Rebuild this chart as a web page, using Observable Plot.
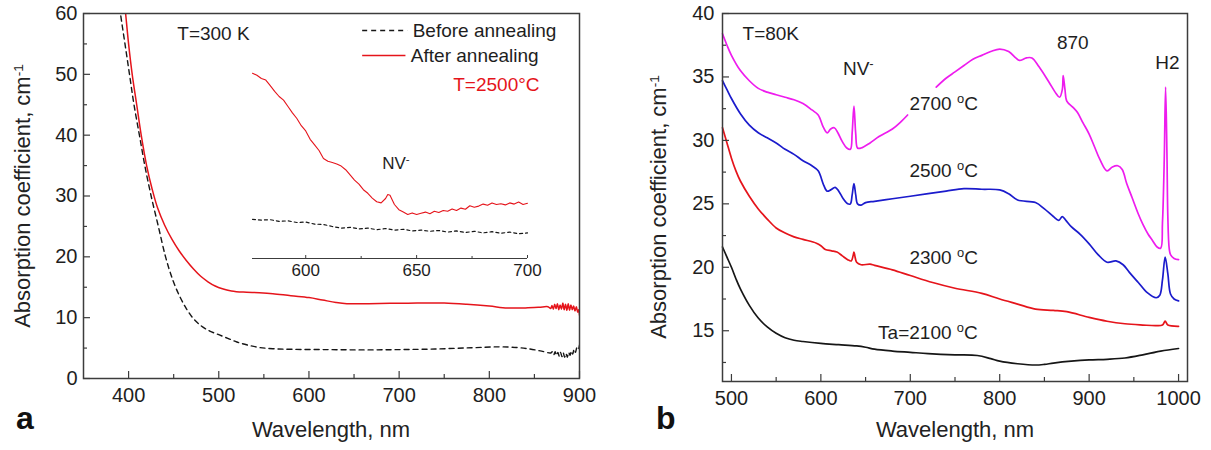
<!DOCTYPE html>
<html><head><meta charset="utf-8">
<script src="https://cdn.jsdelivr.net/npm/d3@7"></script>
<script src="https://cdn.jsdelivr.net/npm/@observablehq/plot@0.6"></script>
<style>
body{margin:0;background:#fff;}
#root{position:relative;width:1211px;height:450px;overflow:hidden;font-family:"Liberation Sans",Arial,sans-serif;color:#222;background:#fff;}
.pane{position:absolute;top:0;}
.lab{position:absolute;white-space:nowrap;font-size:22px;line-height:1;}
.ylab{transform:translate(-50%,-50%) rotate(-90deg);}
.xlab{transform:translateX(-50%);}
.letter{position:absolute;font-size:32px;font-weight:bold;line-height:1;color:#111;}
sup{font-size:0.62em;vertical-align:0.55em;line-height:0;}
</style></head><body><div id="root"></div><script>
// ---------- Panel a : T = 300 K ----------
const xTicksA = [400, 500, 600, 700, 800, 900];
const xMinorA = [450, 550, 650, 750, 850];
const yTicksA = [0, 10, 20, 30, 40, 50, 60];
const yMinorA = [5, 15, 25, 35, 45, 55];

const beforeA = [[389,62.5],[391,60],[396,55],[401,50],[406,45],[412,40],[418,35],[425,30],[433,25],[441,20],[449,16.2],[457,13.4],[464,11.5],[471,10.0],[480,8.7],[490,7.8],[500,7.2],[510,6.6],[520,6.0],[532,5.5],[545,5.1],[560,4.9],[580,4.8],[620,4.75],[660,4.7],[700,4.75],[740,4.85],[780,5.05],[810,5.2],[830,5.1],[845,4.85],[858,4.5],[868,4.2],[870,4.4],[871.5,3.9],[873,4.4],[874.5,3.8],[876,4.3],[877.5,3.7],[879,4.3],[880.5,3.6],[882,4.2],[883.5,3.5],[885,4.1],[886.5,3.5],[888,4.3],[889.5,3.8],[891,4.5],[892.5,4.0],[894,4.8],[895.5,4.3],[897,5.0],[898.5,4.7],[900,5.5]];
const afterA = [[395,62.5],[396.7,60],[400,55],[404,50],[409,45],[414,40],[420,35],[426,31.2],[432,28.1],[440,25.2],[448,22.9],[456,21.0],[464,19.4],[472,18.0],[480,16.8],[488,15.9],[496,15.2],[504,14.75],[514,14.4],[527,14.2],[545,14.1],[560,13.95],[580,13.6],[600,13.3],[615,12.9],[630,12.5],[642,12.3],[665,12.3],[690,12.35],[720,12.4],[750,12.4],[775,12.2],[800,11.9],[820,11.6],[840,11.6],[855,11.7],[865,11.8],[868,11.5],[869.5,12.0],[871,11.4],[872.5,12.2],[874,11.5],[875.5,12.3],[877,11.3],[878.5,12.1],[880,11.4],[881.5,12.4],[883,11.3],[884.5,12.2],[886,11.2],[887.5,12.3],[889,11.2],[890.5,12.1],[892,11.3],[893.5,11.9],[895,11.1],[896.5,11.8],[898,10.9],[899,11.3],[900,10.4]];

// inset (576–700 nm, arbitrary vertical units)
const insetTicks = [600, 650, 700];
const insetMinor = [625, 675];
const insetAfter = [[576,46.3],[578,45.8],[580,45.0],[582,44.6],[584,43.2],[586,41.8],[588,40.5],[590,39.6],[592,38.0],[594,36.4],[596,35.0],[598,33.2],[600,31.9],[602,29.8],[604,28.4],[606,27.0],[608,25.0],[610,24.3],[612,24.0],[614,23.6],[616,23.1],[618,22.2],[620,20.9],[622,19.6],[624,18.6],[626,17.2],[628,16.3],[630,15.1],[632,14.2],[634,13.9],[636,15.0],[637,16.0],[638,15.8],[640,13.5],[642,12.2],[644,11.6],[646,11.0],[648,11.4],[650,11.0],[652,11.3],[654,11.6],[656,11.2],[658,11.8],[660,11.5],[662,12.0],[664,11.8],[666,12.4],[668,12.0],[670,12.6],[672,12.3],[674,13.2],[676,12.8],[678,13.1],[680,13.6],[682,13.3],[684,13.9],[686,13.5],[688,13.7],[690,13.4],[692,13.9],[694,13.6],[696,14.1],[698,13.5],[700,13.8]];
const insetBefore = [[576,9.8],[580,9.6],[584,9.7],[588,9.3],[592,9.4],[596,9.0],[600,9.1],[604,8.6],[608,8.5],[612,8.0],[616,7.6],[620,7.8],[624,7.4],[628,7.6],[632,7.2],[636,7.5],[640,7.1],[644,7.3],[648,6.9],[652,7.1],[656,6.8],[660,7.0],[664,6.6],[668,6.9],[672,6.5],[676,6.8],[680,6.4],[684,6.7],[688,6.3],[692,6.6],[696,6.2],[700,6.4]];

const seriesA = ["Before annealing", "After annealing"];
const notesA = [{t: "T=300 K", x: 454, y: 56.7}];
const legendA = [{t: seriesA[0], x1: 659, x2: 709, y: 57.2}, {t: seriesA[1], x1: 659, x2: 707, y: 53.1}];
const redNotesA = [{t: "T=2500°C", x: 760, y: 48.2}];
const insetNotes = [{t: "NV^{-}", x: 634.5, y: 23.8}];

// ---------- Panel b : T = 80 K ----------
const xTicksB = [500, 600, 700, 800, 900, 1000];
const xMinorB = [550, 650, 750, 850, 950];
const yTicksB = [15, 20, 25, 30, 35, 40];
const yMinorB = [12.5, 17.5, 22.5, 27.5, 32.5, 37.5];

const ta2100 = [[490,21.6],[495,20.8],[500,20.0],[505,19.1],[510,18.3],[520,17.0],[530,16.0],[540,15.3],[550,14.8],[560,14.45],[570,14.25],[580,14.15],[600,14.0],[620,13.9],[640,13.8],[650,13.7],[660,13.55],[680,13.4],[700,13.3],[720,13.2],[750,13.1],[775,13.05],[790,12.8],[800,12.6],[820,12.4],[840,12.3],[850,12.35],[860,12.45],[880,12.6],[900,12.7],[920,12.75],[940,12.85],[960,13.1],[980,13.4],[1000,13.6]];
const ta2300 = [[490,31.0],[495,29.8],[500,28.6],[505,27.6],[510,26.8],[520,25.6],[530,24.6],[540,23.8],[550,23.1],[560,22.7],[570,22.4],[580,22.2],[595,21.9],[600,21.7],[605,21.4],[612,21.3],[618,21.2],[624,20.9],[630,20.6],[634,20.5],[636,20.9],[637,21.2],[638,20.9],[640,20.4],[645,20.2],[655,20.25],[660,20.15],[680,19.8],[700,19.35],[725,18.8],[750,18.35],[780,17.95],[800,17.5],[820,17.1],[840,16.7],[860,16.6],[875,16.5],[900,16.05],[920,15.75],[940,15.55],[960,15.45],[975,15.4],[982,15.45],[985,15.75],[988,15.45],[1000,15.35]];
const ta2500 = [[490,34.7],[495,34.0],[500,33.3],[510,32.1],[520,31.2],[530,30.6],[540,30.2],[550,29.8],[560,29.3],[570,28.9],[580,28.4],[590,28.0],[597,27.6],[603,26.5],[607,26.0],[611,26.1],[616,26.3],[620,26.0],[625,25.4],[630,25.0],[633,25.0],[635,25.7],[637,26.6],[639,25.7],[641,25.0],[645,24.9],[650,25.1],[660,25.2],[680,25.4],[700,25.6],[720,25.8],[740,26.0],[760,26.2],[780,26.15],[800,26.1],[810,25.8],[820,25.3],[840,25.1],[850,24.6],[860,24.0],[866,23.7],[870,24.0],[874,23.7],[880,23.2],[890,22.6],[900,21.85],[910,21.0],[920,20.4],[930,20.5],[938,20.2],[945,19.6],[955,18.8],[965,18.0],[975,17.6],[979,17.8],[982,19.0],[985,20.8],[988,19.5],[991,17.9],[995,17.5],[1000,17.35]];
const ta2700 = [[490,38.4],[495,37.5],[500,36.7],[510,35.5],[520,34.7],[530,34.1],[540,33.8],[550,33.6],[560,33.4],[570,33.2],[580,32.9],[590,32.4],[597,32.0],[603,31.0],[607,30.6],[611,30.9],[615,31.0],[619,30.6],[624,29.9],[629,29.4],[633,29.3],[635,30.6],[637,32.7],[639,30.5],[641,29.4],[645,29.4],[655,29.8],[665,30.3],[680,30.9],[690,31.5],[697,32.0],[713,NaN],[729,34.2],[740,34.9],[750,35.4],[760,35.9],[770,36.4],[780,36.7],[790,37.0],[800,37.2],[810,37.0],[818,36.5],[822,36.3],[830,36.5],[836,36.5],[844,35.8],[855,34.6],[863,33.7],[867,33.4],[870,34.0],[871,35.1],[873,34.0],[875,33.1],[882,32.6],[887,32.2],[893,31.4],[900,30.5],[906,29.5],[912,28.5],[920,27.6],[926,27.9],[932,28.0],[937,27.7],[942,26.6],[948,25.5],[955,24.2],[960,23.4],[966,22.6],[971,22.1],[976,21.6],[980,21.5],[982,23.5],[984,28.5],[985.5,34.2],[987,29.0],[988,24.0],[989.5,21.5],[991,21.0],[995,20.7],[1000,20.6]];
const notesB = [
  {t: "T=80K", x: 512.4, y: 38.4},
  {t: "NV^{-}", x: 624.7, y: 35.66},
  {t: "870", x: 864, y: 37.7},
  {t: "H2", x: 974, y: 36.1},
  {t: "2700 ^{o}C", x: 699, y: 32.9},
  {t: "2500 ^{o}C", x: 699, y: 27.6},
  {t: "2300 ^{o}C", x: 699, y: 20.75},
  {t: "Ta=2100 ^{o}C", x: 664, y: 14.85}
];

// ---------- styling ----------
const FONT = '"Liberation Sans", Arial, sans-serif';
const AX = "#3c3c3c";
const RED = "#e5141b", BLUE = "#1b1bcc", MAG = "#ee1cee", BLK = "#161616";
const TXT = "#1e1e1e";

function supify(svg, raise) {
  d3.select(svg).selectAll("text").each(function () {
    const s = this.textContent;
    if (!s.includes("^{")) return;
    const sel = d3.select(this);
    sel.text(null);
    let up = false;
    for (const p of s.split(/(\^\{[^}]*\})/)) {
      if (!p) continue;
      if (p.startsWith("^{")) {
        sel.append("tspan").attr("dy", -raise).attr("font-size", "0.68em").text(p.slice(2, -1));
        up = true;
      } else {
        const t = sel.append("tspan").text(p);
        if (up) { t.attr("dy", raise); up = false; }
      }
    }
  });
}

function frameTicks(xMaj, xMin, yMaj, yMin, innerW, innerH) {
  return [
    Plot.tickX(xMaj, {x: d => d, insetTop: innerH - 7, stroke: AX, strokeWidth: 1.2}),
    Plot.tickX(xMin, {x: d => d, insetTop: innerH - 4, stroke: AX, strokeWidth: 1.2}),
    Plot.tickY(yMaj, {y: d => d, insetRight: innerW - 7, stroke: AX, strokeWidth: 1.2}),
    Plot.tickY(yMin, {y: d => d, insetRight: innerW - 4, stroke: AX, strokeWidth: 1.2}),
    Plot.frame({stroke: AX, strokeWidth: 1.5})
  ];
}

const root = document.getElementById("root");
function place(svg, left, top) {
  const d = document.createElement("div");
  d.className = "pane";
  d.style.left = left + "px";
  d.style.top = top + "px";
  d.appendChild(svg);
  root.appendChild(d);
}

// Panel a
const A = {w: 600, h: 450, ml: 83, mr: 21, mt: 13, mb: 72};
const plotA = Plot.plot({
  width: A.w, height: A.h, marginLeft: A.ml, marginRight: A.mr, marginTop: A.mt, marginBottom: A.mb,
  style: {fontFamily: FONT, fontSize: "20px", color: TXT, background: "transparent", overflow: "visible"},
  x: {domain: [350, 900]},
  y: {domain: [0, 60]},
  marks: [
    Plot.line(beforeA, {x: d => d[0], y: d => d[1], stroke: BLK, strokeWidth: 1.4, strokeDasharray: "5,4", clip: true, curve: "catmull-rom"}),
    Plot.line(afterA, {x: d => d[0], y: d => d[1], stroke: RED, strokeWidth: 1.5, clip: true, curve: "catmull-rom"}),
    ...frameTicks(xTicksA, xMinorA, yTicksA, yMinorA, A.w - A.ml - A.mr, A.h - A.mt - A.mb),
    Plot.axisX({ticks: xTicksA, tickSize: 0, tickPadding: 9, label: null, fontSize: 20, tickFormat: d => String(d)}),
    Plot.axisY({ticks: yTicksA, tickSize: 0, tickPadding: 6, label: null, fontSize: 20, tickFormat: d => String(d)}),
    Plot.text(notesA, {x: "x", y: "y", text: "t", textAnchor: "start", fontSize: 19, fill: TXT}),
    Plot.link(legendA.slice(0, 1), {x1: "x1", x2: "x2", y1: "y", y2: "y", stroke: BLK, strokeWidth: 1.4, strokeDasharray: "5,4"}),
    Plot.link(legendA.slice(1), {x1: "x1", x2: "x2", y1: "y", y2: "y", stroke: RED, strokeWidth: 1.5}),
    Plot.text(legendA, {x: d => d.x2 + 6, y: "y", text: "t", textAnchor: "start", fontSize: 19, fill: TXT}),
    Plot.text(redNotesA, {x: "x", y: "y", text: "t", textAnchor: "start", fontSize: 19, fill: RED})
  ]
});
place(plotA, 0, 0);

// Inset of panel a
const I = {w: 320, h: 238, ml: 20, mr: 25, mt: 8, mb: 30};
const plotI = Plot.plot({
  width: I.w, height: I.h, marginLeft: I.ml, marginRight: I.mr, marginTop: I.mt, marginBottom: I.mb,
  style: {fontFamily: FONT, fontSize: "17px", color: TXT, background: "transparent", overflow: "visible"},
  x: {domain: [576, 700]},
  y: {domain: [0, 50], axis: null},
  marks: [
    Plot.ruleY([0], {stroke: AX, strokeWidth: 1.2}),
    Plot.tickX(insetTicks, {x: d => d, insetTop: I.h - I.mt - I.mb - 3, stroke: AX, strokeWidth: 1}),
    Plot.tickX(insetMinor, {x: d => d, insetTop: I.h - I.mt - I.mb - 2, stroke: AX, strokeWidth: 1}),
    Plot.axisX({ticks: insetTicks, tickSize: 0, tickPadding: 5, label: null, fontSize: 17, tickFormat: d => String(d)}),
    Plot.line(insetBefore, {x: d => d[0], y: d => d[1], stroke: BLK, strokeWidth: 1.2, strokeDasharray: "3,3"}),
    Plot.line(insetAfter, {x: d => d[0], y: d => d[1], stroke: RED, strokeWidth: 1.1}),
    Plot.text(insetNotes, {x: "x", y: "y", text: "t", textAnchor: "start", fontSize: 17, fill: TXT})
  ]
});
supify(plotI, 6);
place(plotI, 232, 50);

// Panel b
const B = {w: 611, h: 450, ml: 122, mr: 24, mt: 13, mb: 69};
const plotB = Plot.plot({
  width: B.w, height: B.h, marginLeft: B.ml, marginRight: B.mr, marginTop: B.mt, marginBottom: B.mb,
  style: {fontFamily: FONT, fontSize: "20px", color: TXT, background: "transparent", overflow: "visible"},
  x: {domain: [490, 1010]},
  y: {domain: [11, 40]},
  marks: [
    Plot.line(ta2100, {x: d => d[0], y: d => d[1], stroke: BLK, strokeWidth: 1.7, curve: "catmull-rom"}),
    Plot.line(ta2300, {x: d => d[0], y: d => d[1], stroke: RED, strokeWidth: 1.7, curve: "catmull-rom"}),
    Plot.line(ta2500, {x: d => d[0], y: d => d[1], stroke: BLUE, strokeWidth: 1.7, curve: "catmull-rom"}),
    Plot.line(ta2700, {x: d => d[0], y: d => d[1], stroke: MAG, strokeWidth: 1.7, curve: "catmull-rom"}),
    ...frameTicks(xTicksB, xMinorB, yTicksB, yMinorB, B.w - B.ml - B.mr, B.h - B.mt - B.mb),
    Plot.axisX({ticks: xTicksB, tickSize: 0, tickPadding: 9, label: null, fontSize: 20, tickFormat: d => String(d)}),
    Plot.axisY({ticks: yTicksB, tickSize: 0, tickPadding: 8, label: null, fontSize: 20, tickFormat: d => String(d)}),
    Plot.text(notesB, {x: "x", y: "y", text: "t", textAnchor: "start", fontSize: 19, fill: TXT})
  ]
});
supify(plotB, 7);
place(plotB, 600, 0);

// axis titles and panel letters
function addLabel(html, cls, css) {
  const d = document.createElement("div");
  d.className = cls;
  d.innerHTML = html;
  Object.assign(d.style, css);
  root.appendChild(d);
}
const yTitle = "Absorption coefficient, cm<sup>-1</sup>";
const xTitle = "Wavelength, nm";
addLabel(yTitle, "lab ylab", {left: "23px", top: "196px"});
addLabel(yTitle, "lab ylab", {left: "659px", top: "207px"});
addLabel(xTitle, "lab xlab", {left: "331px", top: "419px"});
addLabel(xTitle, "lab xlab", {left: "955px", top: "419px"});
addLabel("a", "letter", {left: "16px", top: "402px"});
addLabel("b", "letter", {left: "656px", top: "402px"});
</script></body></html>
